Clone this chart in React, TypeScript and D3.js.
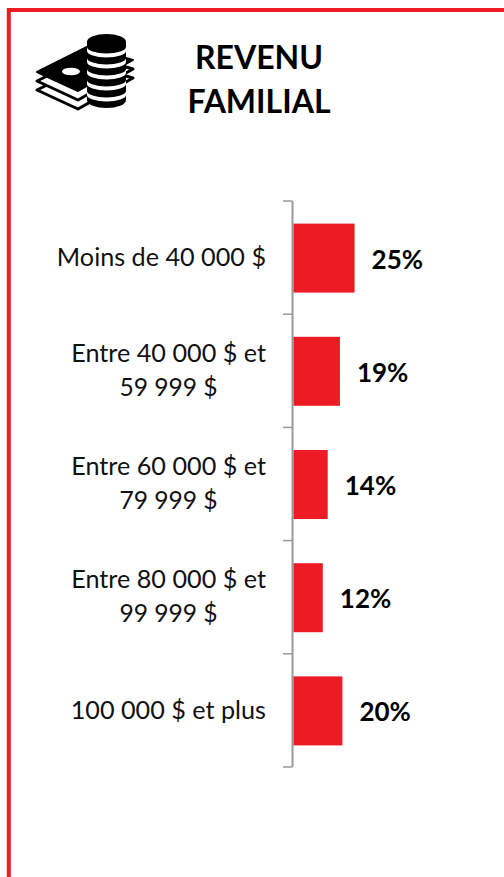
import React from "react";
import * as d3 from "d3";

const categories = ["Moins de 40 000 $", "Entre 40 000 $ et|59 999 $", "Entre 60 000 $ et|79 999 $", "Entre 80 000 $ et|99 999 $", "100 000 $ et plus"];
const values = [25, 19, 14, 12, 20];
const titleLines = ["REVENU", "FAMILIAL"];

const W = 504, H = 877;
const RED = "#ED1C24";
const FONT = "Lato, Carlito, 'Open Sans', sans-serif";
const axisTop = 201, axisBottom = 767, axisX = 292.5;

const y = d3.scaleBand<number>().domain(d3.range(categories.length)).range([axisTop, axisBottom]).paddingInner(0).paddingOuter(0);
const x = d3.scaleLinear().domain([0, 25]).range([axisX + 1, 354.6]);

function Icon() {
  const crescents = [0, 1, 2, 3, 4];
  const bill = (dy: number) => `M37 ${72 + dy} L87 ${47 + dy} L133 ${60 + dy} L78 ${91 + dy} Z`;
  return (
    <g>
      {[18, 9].map((d) => (
        <path key={d} d={bill(d)} fill="#fff" stroke="#000" strokeWidth={3} strokeLinejoin="round" />
      ))}
      <path d={bill(0)} fill="#000" stroke="#000" strokeWidth={2} strokeLinejoin="round" />
      <ellipse cx={71} cy={71.5} rx={9} ry={3.8} fill="#fff" />
      <path d="M87 42 V100 a19.5 8 0 0 0 39 0 V42 Z" fill="#000" />
      <ellipse cx={106.5} cy={42} rx={19.5} ry={8} fill="#000" />
      {crescents.map((i) => {
        const s = 47 + i * 11;
        return <path key={i} d={`M87 ${s} a19.5 6.5 0 0 0 39 0 v4 a19.5 6.5 0 0 1 -39 0 Z`} fill="#fff" />;
      })}
    </g>
  );
}

export default function App() {
  const ticks = d3.range(categories.length + 1).map((i) => (i < categories.length ? (y(i) as number) : axisBottom));
  return (
    <svg width={W} height={H} style={{ position: "absolute", left: 0, top: 0, background: "#fff" }} fontFamily={FONT}>
      <path d={`M8.8 ${H} V10 H${W}`} fill="none" stroke={RED} strokeWidth={4} />
      <Icon />
      {titleLines.map((t, i) => (
        <text key={t} x={259} y={69 + i * 44} textAnchor="middle" fontSize={32} fontWeight={700} fill="#000">{t}</text>
      ))}
      <path d={`M${axisX} ${axisTop} V${axisBottom}`} stroke="#999" strokeWidth={2} fill="none" />
      {ticks.map((t, i) => (
        <line key={i} x1={283} x2={axisX} y1={t} y2={t} stroke="#999" strokeWidth={1.5} />
      ))}
      {values.map((v, i) => {
        const cy = (y(i) as number) + y.bandwidth() / 2;
        const lines = categories[i].split("|");
        const barH = 69;
        return (
          <g key={i}>
            <rect x={x(0)} y={cy - barH / 2 + 0.5} width={x(v) - x(0)} height={barH} fill={RED} />
            <text x={x(v) + 17} y={cy + 11} fontSize={26} fontWeight={700} fill="#000">{v}%</text>
            {lines.length === 1 ? (
              <text x={266} y={cy + 8.5} textAnchor="end" fontSize={25.2} fill="#111">{lines[0]}</text>
            ) : (
              <>
                <text x={266} y={cy - 9} textAnchor="end" fontSize={25.2} fill="#111">{lines[0]}</text>
                <text x={168.5} y={cy + 25} textAnchor="middle" fontSize={24.6} fill="#111">{lines[1]}</text>
              </>
            )}
          </g>
        );
      })}
    </svg>
  );
}
